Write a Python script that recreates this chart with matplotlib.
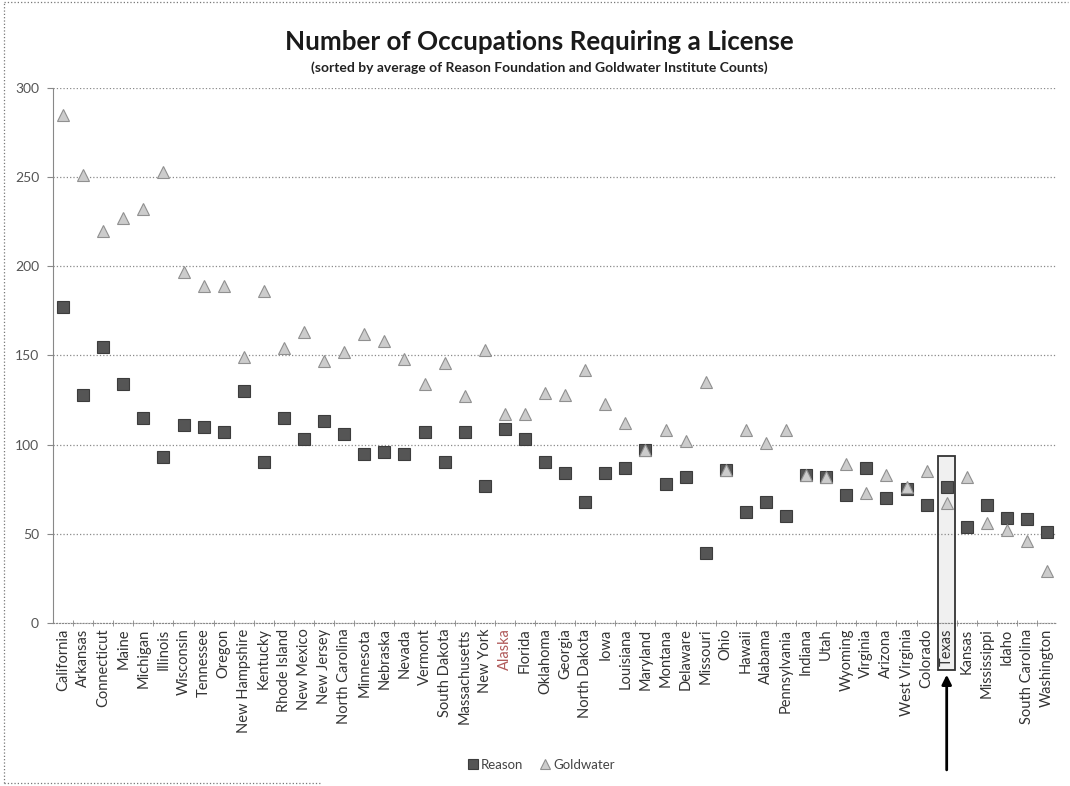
import matplotlib
matplotlib.use("Agg")
import matplotlib.pyplot as plt
from matplotlib.patches import Rectangle
from matplotlib.lines import Line2D

plt.rcParams['font.family'] = ['Lato', 'DejaVu Sans']

# states, sorted by average of the two counts
states = ['California', 'Arkansas', 'Connecticut', 'Maine', 'Michigan', 'Illinois',
          'Wisconsin', 'Tennessee', 'Oregon', 'New Hampshire', 'Kentucky',
          'Rhode Island', 'New Mexico', 'New Jersey', 'North Carolina', 'Minnesota',
          'Nebraska', 'Nevada', 'Vermont', 'South Dakota', 'Massachusetts',
          'New York', 'Alaska', 'Florida', 'Oklahoma', 'Georgia', 'North Dakota',
          'Iowa', 'Louisiana', 'Maryland', 'Montana', 'Delaware', 'Missouri', 'Ohio',
          'Hawaii', 'Alabama', 'Pennsylvania', 'Indiana', 'Utah', 'Wyoming',
          'Virginia', 'Arizona', 'West Virginia', 'Colorado', 'Texas', 'Kansas',
          'Mississippi', 'Idaho', 'South Carolina', 'Washington']

reason = [177, 128, 155, 134, 115, 93, 111, 110, 107, 130,
          90, 115, 103, 113, 106, 95, 96, 95, 107, 90,
          107, 77, 109, 103, 90, 84, 68, 84, 87, 97,
          78, 82, 39, 86, 62, 68, 60, 83, 82, 72,
          87, 70, 75, 66, 76, 54, 66, 59, 58, 51]

goldwater = [285, 251, 220, 227, 232, 253, 197, 189, 189, 149,
             186, 154, 163, 147, 152, 162, 158, 148, 134, 146,
             127, 153, 117, 117, 129, 128, 142, 123, 112, 97,
             108, 102, 135, 86, 108, 101, 108, 83, 82, 89,
             73, 83, 76, 85, 67, 82, 56, 52, 46, 29]

y_ticks = [0, 50, 100, 150, 200, 250, 300]
highlight = 'Texas'

fig = plt.figure(figsize=(10.7, 7.86), dpi=100)
ax = fig.add_axes([0.0495, 0.2075, 0.9385, 0.6805])

x = list(range(len(states)))
ax.plot(x, reason, linestyle='none', marker='s', markersize=9,
        markerfacecolor='#555555', markeredgecolor='#3c3c3c', markeredgewidth=0.8,
        label='Reason', zorder=3)
ax.plot(x, goldwater, linestyle='none', marker='^', markersize=9,
        markerfacecolor='#cccccc', markeredgecolor='#909090', markeredgewidth=0.8,
        label='Goldwater', zorder=4)

ax.set_xlim(-0.5, len(states) - 0.5)
ax.set_ylim(0, 300)
ax.set_yticks(y_ticks)
ax.grid(axis='y', linestyle=':', color='#8a8a8a', linewidth=0.9)
ax.set_axisbelow(True)

ax.set_xticks(x)
ax.set_xticklabels(states, rotation=90, fontsize=10.5, color='#333333')
ax.set_xticks([i + 0.5 for i in x[:-1]], minor=True)
ax.tick_params(axis='x', which='major', length=0, pad=4)
ax.tick_params(axis='x', which='minor', length=4, direction='inout', color='#888888')
ax.tick_params(axis='y', length=4, color='#888888', labelsize=10, labelcolor='#555555', pad=6)
for lab in ax.get_xticklabels():
    if lab.get_text() == 'Alaska':
        lab.set_color('#b05a5a')

for side in ['top', 'right']:
    ax.spines[side].set_visible(False)
ax.spines['left'].set_color('#888888')
ax.spines['bottom'].set_color('#888888')
ax.spines['bottom'].set_linestyle(':')

# box around Texas
ti = states.index(highlight)
ax.add_patch(Rectangle((ti - 0.42, -26.5), 0.84, 120, facecolor='#f0f0f0',
                       edgecolor='none', clip_on=False, zorder=0.2))
ax.add_patch(Rectangle((ti - 0.42, -26.5), 0.84, 120, facecolor='none',
                       edgecolor='#333333', linewidth=1.3, clip_on=False, zorder=5))
ax.annotate('', xy=(ti, -27.5), xytext=(ti, -84), annotation_clip=False,
            arrowprops=dict(arrowstyle='-|>', color='black', lw=2, mutation_scale=14))

fig.text(0.504, 0.946, 'Number of Occupations Requiring a License',
         ha='center', va='center', fontsize=18.7, fontweight='bold', color='#1a1a1a')
fig.text(0.504, 0.914, '(sorted by average of Reason Foundation and Goldwater Institute Counts)',
         ha='center', va='center', fontsize=10, fontweight='bold', color='#222222')

fig.legend(loc='center', bbox_to_anchor=(0.505, 0.027), ncol=2, frameon=False,
           fontsize=9.5, handletextpad=0.1, columnspacing=1.2, handlelength=1,
           markerscale=0.75, labelcolor='#444444')

# dotted frame of the chart area
fig.add_artist(Line2D([0.004, 0.998], [0.997, 0.997], linestyle=':', color='#777777', lw=0.9))
fig.add_artist(Line2D([0.004, 0.004], [0.004, 0.997], linestyle=':', color='#777777', lw=0.9))
fig.add_artist(Line2D([0.004, 0.30], [0.004, 0.004], linestyle=':', color='#777777', lw=0.9))

fig.savefig('out.png', dpi=100)
